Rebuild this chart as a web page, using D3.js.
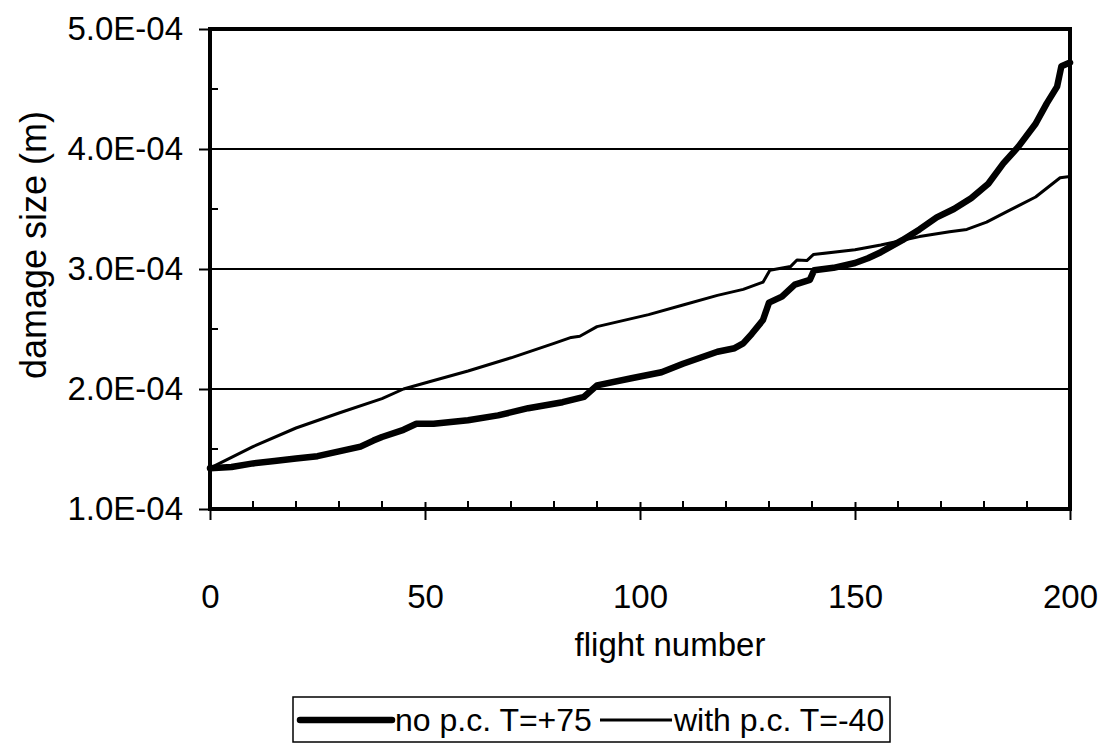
<!DOCTYPE html>
<html><head><meta charset="utf-8">
<script src="https://cdn.jsdelivr.net/npm/d3@7/dist/d3.min.js"></script>
<style>body{margin:0;background:#fff}text{font-family:"Liberation Sans",Arial,sans-serif;fill:#000}</style>
</head><body><svg id="c" width="1107" height="754"></svg>
<script>
// Series: no p.c. T=+75 (thick)
const noPcFlights = [0,5,10,15,20,25,30,35,38,40,45,48,52,60,67,74,82,87,90,98,105,110,118,122,124,126,128.6,130,133,136,139.5,140.5,145,150,153,156,161,165,169,173,177,181,184.5,188,192,194.6,197,198,200];
const noPcValues = [1.34e-4,1.35e-4,1.38e-4,1.40e-4,1.42e-4,1.44e-4,1.48e-4,1.52e-4,1.57e-4,1.60e-4,1.66e-4,1.71e-4,1.71e-4,1.74e-4,1.78e-4,1.84e-4,1.89e-4,1.935e-4,2.03e-4,2.09e-4,2.14e-4,2.21e-4,2.31e-4,2.34e-4,2.38e-4,2.46e-4,2.575e-4,2.72e-4,2.77e-4,2.87e-4,2.91e-4,2.99e-4,3.01e-4,3.05e-4,3.09e-4,3.14e-4,3.24e-4,3.33e-4,3.43e-4,3.50e-4,3.59e-4,3.71e-4,3.88e-4,4.02e-4,4.21e-4,4.38e-4,4.52e-4,4.69e-4,4.72e-4];
// Series: with p.c. T=-40 (thin)
const withPcFlights = [0,5,10,20,30,40,45,51,60,70,80,84,86,90,102,110,118,124,128.6,130.2,135,136.5,138.8,140.3,150,156,165,172,176,180.6,186,192,197.7,200];
const withPcValues = [1.34e-4,1.43e-4,1.52e-4,1.675e-4,1.80e-4,1.92e-4,2.0e-4,2.06e-4,2.15e-4,2.26e-4,2.38e-4,2.43e-4,2.44e-4,2.52e-4,2.62e-4,2.70e-4,2.78e-4,2.83e-4,2.89e-4,2.99e-4,3.02e-4,3.075e-4,3.07e-4,3.12e-4,3.16e-4,3.20e-4,3.27e-4,3.31e-4,3.33e-4,3.39e-4,3.49e-4,3.60e-4,3.76e-4,3.77e-4];

const xTicks = [0,50,100,150,200];
const xMinorTicks = [10,20,30,40,60,70,80,90,110,120,130,140,160,170,180,190];
const yTicks = [1e-4,2e-4,3e-4,4e-4,5e-4];
const yTickLabels = ["1.0E-04","2.0E-04","3.0E-04","4.0E-04","5.0E-04"];
const yMinorTicks = [1.5e-4,2.5e-4,3.5e-4,4.5e-4];
const gridValues = [2e-4,3e-4,4e-4];
const seriesNames = ["no p.c. T=+75","with p.c. T=-40"];

const svg = d3.select("#c");
const L=210,R=1070,T=29,B=509;
const x = d3.scaleLinear().domain([0,200]).range([L,R]);
const y = d3.scaleLinear().domain([1e-4,5e-4]).range([B,T]);
const FS = 33;

// gridlines
svg.append("g").selectAll("line").data(gridValues).join("line")
  .attr("x1",L).attr("x2",R).attr("y1",d=>y(d)).attr("y2",d=>y(d))
  .attr("stroke","#000").attr("stroke-width",2);

// lines
const line = (xs)=>d3.line().x((d,i)=>x(xs[i])).y(d=>y(d));
svg.append("path").attr("d",line(withPcFlights)(withPcValues)).attr("fill","none").attr("stroke","#000").attr("stroke-width",3).attr("stroke-linejoin","round");
svg.append("path").attr("d",line(noPcFlights)(noPcValues)).attr("fill","none").attr("stroke","#000").attr("stroke-width",6.5).attr("stroke-linejoin","round").attr("stroke-linecap","round");

// frame
svg.append("line").attr("x1",L).attr("x2",R).attr("y1",T).attr("y2",T).attr("stroke","#000").attr("stroke-width",4);
svg.append("line").attr("x1",R).attr("x2",R).attr("y1",T-2).attr("y2",B).attr("stroke","#000").attr("stroke-width",4);

// x axis
const xa = svg.append("g").attr("transform",`translate(0,${B})`)
  .call(d3.axisBottom(x).tickValues(xTicks).tickSize(11).tickFormat(d3.format("d")));
xa.select(".domain").attr("stroke-width",4).attr("d",`M${L-2},0H${R+2}`);
xa.selectAll(".tick line").attr("stroke-width",2).attr("y1",-7);
xa.selectAll("text").attr("font-size",FS).attr("font-family","Liberation Sans").attr("y",99).attr("dy",0);
svg.append("g").selectAll("line").data(xMinorTicks).join("line")
  .attr("x1",d=>x(d)).attr("x2",d=>x(d)).attr("y1",B-8).attr("y2",B).attr("stroke","#000").attr("stroke-width",2);

// y axis
const ya = svg.append("g").attr("transform",`translate(${L},0)`)
  .call(d3.axisLeft(y).tickValues(yTicks).tickSize(11).tickPadding(16).tickFormat((d,i)=>yTickLabels[i]));
ya.select(".domain").attr("stroke-width",4).attr("d",`M0,${T-2}V${B+2}`);
ya.selectAll(".tick line").attr("stroke-width",2);
ya.selectAll("text").attr("font-size",FS).attr("font-family","Liberation Sans");
svg.append("g").selectAll("line").data(yMinorTicks).join("line")
  .attr("x1",L).attr("x2",L+8).attr("y1",d=>y(d)).attr("y2",d=>y(d)).attr("stroke","#000").attr("stroke-width",2);

// axis titles
svg.append("text").attr("x",(L+R)/2+30).attr("y",656).attr("text-anchor","middle").attr("font-size",FS).text("flight number");
svg.append("text").attr("transform","translate(46,245) rotate(-90)").attr("text-anchor","middle").attr("font-size",36).text("damage size (m)");

// legend
const LFS = 32;
const lg = svg.append("g");
lg.append("rect").attr("x",293).attr("y",697).attr("width",597).attr("height",45).attr("fill","none").attr("stroke","#000").attr("stroke-width",1.5);
lg.append("line").attr("x1",300).attr("x2",392).attr("y1",720).attr("y2",720).attr("stroke","#000").attr("stroke-width",6.5).attr("stroke-linecap","round");
lg.append("text").attr("x",395).attr("y",731).attr("font-size",LFS).text(seriesNames[0]);
lg.append("line").attr("x1",600).attr("x2",672).attr("y1",720).attr("y2",720).attr("stroke","#000").attr("stroke-width",3);
lg.append("text").attr("x",674).attr("y",731).attr("font-size",LFS).text(seriesNames[1]);
</script></body></html>
